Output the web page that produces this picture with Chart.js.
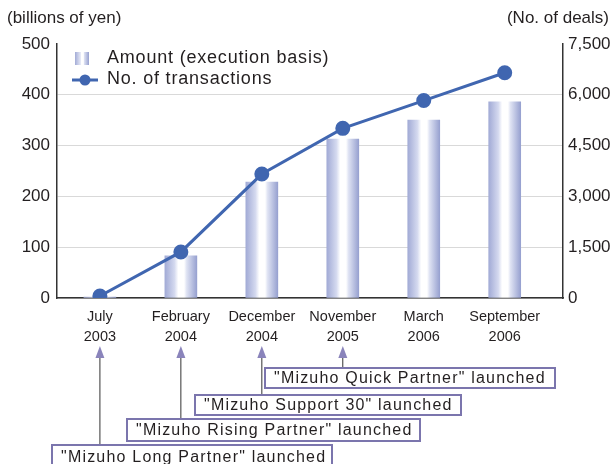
<!DOCTYPE html>
<html>
<head>
<meta charset="utf-8">
<script src="https://cdn.jsdelivr.net/npm/chart.js@4"></script>
<style>
  html, body { margin: 0; padding: 0; background: #fff; }
  #wrap { position: relative; width: 613px; height: 464px; }
</style>
</head>
<body>
<div id="wrap"><canvas id="chart" width="613" height="464"></canvas></div>
<script>
// data
const periods = [['July', '2003'], ['February', '2004'], ['December', '2004'], ['November', '2005'], ['March', '2006'], ['September', '2006']];
const amounts = [2, 83, 228, 313, 350, 386];          // billions of yen
const deals = [60, 1360, 3660, 5010, 5830, 6650];     // no. of deals
const launches = ['"Mizuho Long Partner" launched', '"Mizuho Rising Partner" launched', '"Mizuho Support 30" launched', '"Mizuho Quick Partner" launched'];
const launchAt = [0, 1, 2, 3];

const FONT = "'Liberation Sans', Arial, Helvetica, sans-serif";
const INK = '#231f20';
const LINE = '#4066b0';

// box layout for the launch notes (left, top, right, bottom)
const boxes = [
    [52, 445, 332, 468],
    [127, 419, 420, 441],
    [195, 395, 461, 415],
    [265, 368, 555, 388]
];

function barGradient(ctx) {
    const chart = ctx.chart;
    const x = chart.scales.x;
    if (!x || ctx.dataIndex === undefined) return '#c3c9e6';
    const cx = x.getPixelForValue(ctx.dataIndex);
    if (!Number.isFinite(cx)) return '#c3c9e6';
    const g = chart.ctx.createLinearGradient(cx - 16, 0, cx + 16, 0);
    g.addColorStop(0, '#a2abd6');
    g.addColorStop(0.3, '#d4d9ef');
    g.addColorStop(0.42, '#ffffff');
    g.addColorStop(0.6, '#ffffff');
    g.addColorStop(0.68, '#dfe3f3');
    g.addColorStop(1, '#97a1d0');
    return g;
}

const extras = {
    id: 'extras',
    afterDraw(chart) {
        const c = chart.ctx;
        const x = chart.scales.x;
        c.save();
        // axis titles
        c.fillStyle = INK;
        c.font = '17px ' + FONT;
        c.textBaseline = 'middle';
        c.textAlign = 'left';
        c.fillText('(billions of yen)', 7, 18);
        c.textAlign = 'right';
        c.fillText('(No. of deals)', 609, 18);

        // legend
        c.textAlign = 'left';
        const g = c.createLinearGradient(75, 0, 89, 0);
        g.addColorStop(0, '#a2abd6');
        g.addColorStop(0.4, '#e6e9f6');
        g.addColorStop(0.45, '#ffffff');
        g.addColorStop(0.6, '#ffffff');
        g.addColorStop(0.65, '#dfe3f3');
        g.addColorStop(1, '#97a1d0');
        c.fillStyle = g;
        c.fillRect(75, 52, 14, 13);
        c.strokeStyle = LINE;
        c.lineWidth = 3;
        c.beginPath();
        c.moveTo(72, 80);
        c.lineTo(98, 80);
        c.stroke();
        c.fillStyle = LINE;
        c.beginPath();
        c.arc(85, 80, 5.5, 0, Math.PI * 2);
        c.fill();
        c.fillStyle = INK;
        c.font = '18px ' + FONT;
        c.letterSpacing = '0.8px';
        c.fillText('Amount (execution basis)', 107, 58);
        c.fillText('No. of transactions', 107, 79);

        // launch notes
        launches.forEach((text, i) => {
            const [l, t, r, b] = boxes[i];
            const ax = x.getPixelForValue(launchAt[i]);
            c.strokeStyle = '#333';
            c.lineWidth = 1;
            c.beginPath();
            c.moveTo(ax, 356);
            c.lineTo(ax, t);
            c.stroke();
            c.fillStyle = '#8a84bb';
            c.beginPath();
            c.moveTo(ax, 346);
            c.lineTo(ax - 4.5, 358);
            c.lineTo(ax + 4.5, 358);
            c.closePath();
            c.fill();
            c.fillStyle = '#fff';
            c.fillRect(l, t, r - l, b - t);
            c.strokeStyle = '#7b75ad';
            c.lineWidth = 2;
            c.strokeRect(l, t, r - l, b - t);
            c.fillStyle = INK;
            c.font = '16px ' + FONT;
            c.letterSpacing = '1.2px';
            c.textBaseline = 'middle';
            c.fillText(text, l + 9, (t + b) / 2 + 1);
        });
        c.restore();
    }
};

new Chart(document.getElementById('chart'), {
    data: {
        datasets: [
            {
                type: 'line',
                label: 'No. of transactions',
                data: deals.map((v, i) => ({ x: i, y: v })),
                yAxisID: 'y2',
                borderColor: LINE,
                backgroundColor: LINE,
                borderWidth: 3,
                pointRadius: 6,
                pointHoverRadius: 6,
                tension: 0,
                order: 0
            },
            {
                type: 'bar',
                label: 'Amount (execution basis)',
                data: amounts.map((v, i) => ({ x: i, y: v })),
                yAxisID: 'y',
                backgroundColor: barGradient,
                barThickness: 32,
                order: 1
            }
        ]
    },
    options: {
        responsive: false,
        animation: false,
        layout: { padding: { top: 44, left: 0, right: 0, bottom: 0 } },
        plugins: { legend: { display: false }, tooltip: { enabled: false } },
        scales: {
            x: {
                type: 'linear',
                offset: false,
                min: -0.53,
                max: 5.72,
                afterBuildTicks: s => { s.ticks = periods.map((p, i) => ({ value: i })); },
                afterFit: s => { s.height = 166; },
                grid: { display: false, drawTicks: false, offset: false },
                border: { display: true, color: '#333', width: 1.5 },
                ticks: {
                    callback: v => periods[v],
                    color: INK,
                    font: { family: FONT, size: 14.5, lineHeight: 1.4 },
                    padding: 9,
                    maxRotation: 0,
                    autoSkip: false
                }
            },
            y: {
                position: 'left',
                min: 0,
                max: 500,
                afterFit: s => { s.width = 57; },
                grid: {
                    color: ctx => (ctx.tick && ctx.tick.value === 500 ? 'rgba(0,0,0,0)' : '#d9d9d9'),
                    lineWidth: 1,
                    drawTicks: false
                },
                border: { display: true, color: '#333', width: 1.5 },
                ticks: {
                    stepSize: 100,
                    color: INK,
                    font: { family: FONT, size: 17 },
                    padding: 7
                }
            },
            y2: {
                position: 'right',
                min: 0,
                max: 7500,
                afterFit: s => { s.width = 50; },
                grid: { display: false, drawTicks: false },
                border: { display: true, color: '#333', width: 1.5 },
                ticks: {
                    stepSize: 1500,
                    color: INK,
                    font: { family: FONT, size: 17 },
                    padding: 5,
                    callback: v => v.toLocaleString('en-US')
                }
            }
        }
    },
    plugins: [extras]
});
</script>
</body>
</html>
